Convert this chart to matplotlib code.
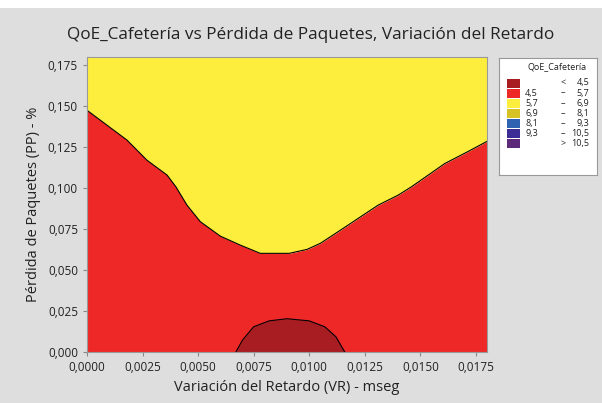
import numpy as np
import matplotlib.pyplot as plt
from matplotlib.patches import Rectangle
from matplotlib.ticker import FuncFormatter

# contour boundary QoE = 5.7 (red below, yellow above)
b57_x = [0.0000, 0.0009, 0.0018, 0.0027, 0.0036, 0.0040, 0.0045, 0.0051, 0.0060,
         0.0069, 0.0078, 0.0091, 0.0099, 0.0105, 0.0113, 0.0122, 0.0131, 0.0140,
         0.0146, 0.0161, 0.0171, 0.0180]
b57_y = [0.1475, 0.1384, 0.1293, 0.1170, 0.1080, 0.1008, 0.0896, 0.0795, 0.0707,
         0.0652, 0.0602, 0.0602, 0.0626, 0.0663, 0.0734, 0.0815, 0.0896, 0.0957,
         0.1008, 0.1150, 0.1220, 0.1285]

# contour boundary QoE = 4.5 (dark red region at the bottom)
b45_x = [0.0067, 0.0070, 0.0075, 0.0082, 0.0090, 0.0100, 0.0107, 0.0112, 0.0116]
b45_y = [0.000, 0.0073, 0.0154, 0.0190, 0.0203, 0.0190, 0.0154, 0.0093, 0.000]

# legend classes
lo_labels = ['', '4,5', '5,7', '6,9', '8,1', '9,3', '']
mid_labels = ['<', '–', '–', '–', '–', '–', '>']
hi_labels = ['4,5', '5,7', '6,9', '8,1', '9,3', '10,5', '10,5']
colors = ['#a81d22', '#ee2826', '#fdee3e', '#d6c224', '#2f62b0', '#3b2d95', '#5c2a78']

plt.rcParams['font.family'] = ['Open Sans', 'DejaVu Sans']

fig = plt.figure(figsize=(6.02, 4.03), dpi=100)
fig.patch.set_facecolor('#dedede')
# white strip at the very top
fig.patches.append(Rectangle((0, 1 - 8 / 403), 1, 8 / 403, transform=fig.transFigure,
                             facecolor='white', edgecolor='none', zorder=0))

ax = fig.add_axes([87 / 602, 51 / 403, 400 / 602, 295 / 403])
ax.set_xlim(0, 0.018)
ax.set_ylim(0, 0.18)

ax.fill_between(b57_x, 0, b57_y, color=colors[1], lw=0)
ax.fill_between(b57_x, b57_y, 0.18, color=colors[2], lw=0)
ax.fill_between(b45_x, 0, b45_y, color=colors[0], lw=0)
ax.plot(b57_x, b57_y, color='black', lw=0.8)
ax.plot(b45_x, b45_y, color='black', lw=0.8)

ax.set_xticks(np.arange(0, 0.0176, 0.0025))
ax.set_yticks(np.arange(0, 0.176, 0.025))
ax.xaxis.set_major_formatter(FuncFormatter(lambda v, p: f'{v:.4f}'.replace('.', ',')))
ax.yaxis.set_major_formatter(FuncFormatter(lambda v, p: f'{v:.3f}'.replace('.', ',')))
ax.tick_params(labelsize=8.5, colors='#888888', labelcolor='#222222', length=3, width=0.8)
for s in ax.spines.values():
    s.set_color('#999999')
    s.set_linewidth(0.8)

ax.set_xlabel('Variación del Retardo (VR) - mseg', fontsize=10.5, color='#222222', labelpad=4)
ax.set_ylabel('Pérdida de Paquetes (PP) - %', fontsize=10.5, color='#222222', labelpad=5)
fig.text(311 / 602, 1 - 35 / 403,
         'QoE_Cafetería vs Pérdida de Paquetes, Variación del Retardo',
         ha='center', va='center', fontsize=12.4, color='#222222')

# legend box drawn by hand
lg = fig.add_axes([499 / 602, 228 / 403, 98 / 602, 117 / 403])
lg.set_xlim(0, 98)
lg.set_ylim(117, 0)
lg.set_xticks([])
lg.set_yticks([])
lg.set_facecolor('white')
for s in lg.spines.values():
    s.set_color('#999999')
    s.set_linewidth(0.8)
lg.text(58, 9, 'QoE_Cafetería', ha='center', va='center', fontsize=6.5, color='#222222')
for i in range(len(colors)):
    yc = 25 + i * 10.1
    lg.add_patch(Rectangle((8, yc - 4.5), 13, 9, facecolor=colors[i], edgecolor='none'))
    lg.text(26, yc, lo_labels[i], ha='left', va='center', fontsize=6.5, color='#222222')
    lg.text(64, yc, mid_labels[i], ha='center', va='center', fontsize=6.5, color='#222222')
    lg.text(90, yc, hi_labels[i], ha='right', va='center', fontsize=6.5, color='#222222')

fig.savefig('out.png', dpi=100, facecolor=fig.get_facecolor())
